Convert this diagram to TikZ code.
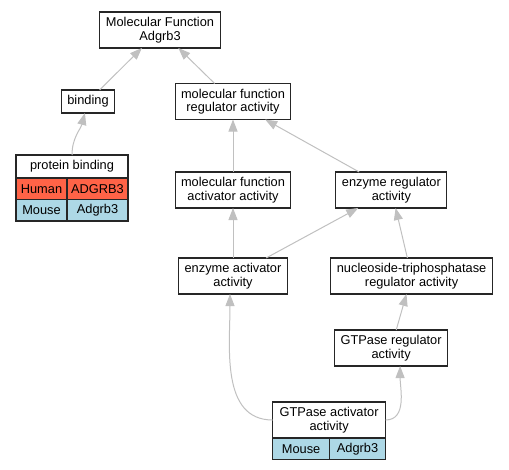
\documentclass[tikz,border=0pt]{standalone}
\usepackage{fontspec}
\setmainfont{Liberation Sans}
\usepackage{tikz}
\usetikzlibrary{positioning}
\usetikzlibrary{arrows.meta}
\usepackage{xcolor}
\definecolor{humanred}{HTML}{FF6347}
\definecolor{mouseblue}{HTML}{ADD8E6}
\definecolor{linegray}{HTML}{C0C0C0}

\begin{document}
\begin{tikzpicture}[font = \fontsize{12.8pt}{13.5pt}\selectfont,
		term/.style = {draw = black!85, line width = 1.1pt, fill = white, align = center, inner xsep = 6pt, inner ysep = 0pt, outer sep = 0pt, minimum height = 36pt},
		single/.style = {term, minimum height = 23pt},
		cell/.style = {draw = black!85, line width = 1.1pt, inner sep = 0pt, outer sep = 0pt, minimum height = 21.5pt},
		human/.style = {cell, fill = humanred},
		mouse/.style = {cell, fill = mouseblue},
		isa/.style = {color = linegray, line width = 1pt, -{Triangle[length = 12pt, width = 9pt, fill = linegray]}}]
		\useasboundingbox (0pt,0pt) rectangle (509pt,-469pt);
		\node[term] (MF) at (160pt,-30pt) {Molecular Function\\Adgrb3};
		\node[single, below = 42pt of MF, xshift = -72pt] (binding) {binding};
		\node[term, below = 35.5pt of MF, xshift = 73pt] (mfra) {molecular function\\regulator activity};
		\node[single, minimum width = 112pt, below = 42pt of binding, xshift = -16pt] (pb) {protein binding};
		\node[human, minimum width = 51pt, below right = 0pt of pb.south west] (pbhs) {Human};
		\node[human, minimum width = 61pt, right = 0pt of pbhs] (pbhg) {ADGRB3};
		\node[mouse, minimum width = 51pt, below = 0pt of pbhs] (pbms) {Mouse};
		\node[mouse, minimum width = 61pt, right = 0pt of pbms] (pbmg) {Adgrb3};
		\node[term, below = 52.5pt of mfra] (mfaa) {molecular function\\activator activity};
		\node[term, right = 45pt of mfaa] (era) {enzyme regulator\\activity};
		\node[term, below = 50pt of mfaa] (eaa) {enzyme activator\\activity};
		\node[term, right = 43.5pt of eaa] (ntra) {nucleoside-triphosphatase\\regulator activity};
		\node[term, below = 36pt of ntra, xshift = -20.5pt] (gtra) {GTPase regulator\\activity};
		\node[term, minimum width = 113pt, below = 36pt of gtra, xshift = -62pt] (gtaa) {GTPase activator\\activity};
		\node[mouse, minimum width = 57pt, below right = 0pt of gtaa.south west] (gtaams) {Mouse};
		\node[mouse, minimum width = 56pt, right = 0pt of gtaams] (gtaamg) {Adgrb3};
		\draw (binding) edge[isa] (MF);
		\draw (mfra) edge[isa] (MF);
		\draw (pb) edge[isa, out = 90, in = -105] (binding);
		\draw (mfaa) edge[isa] (mfra);
		\draw (era) edge[isa] (mfra);
		\draw (eaa) edge[isa] (mfaa) edge[isa] (era);
		\draw (ntra) edge[isa] (era);
		\draw (gtra) edge[isa] (ntra);
		\draw (gtaa) edge[isa, out = 180, in = -90] ([xshift = -3pt]eaa.south) edge[isa, out = 0, in = -90] ([xshift = 9pt]gtra.south);
	\end{tikzpicture}
\end{document}
